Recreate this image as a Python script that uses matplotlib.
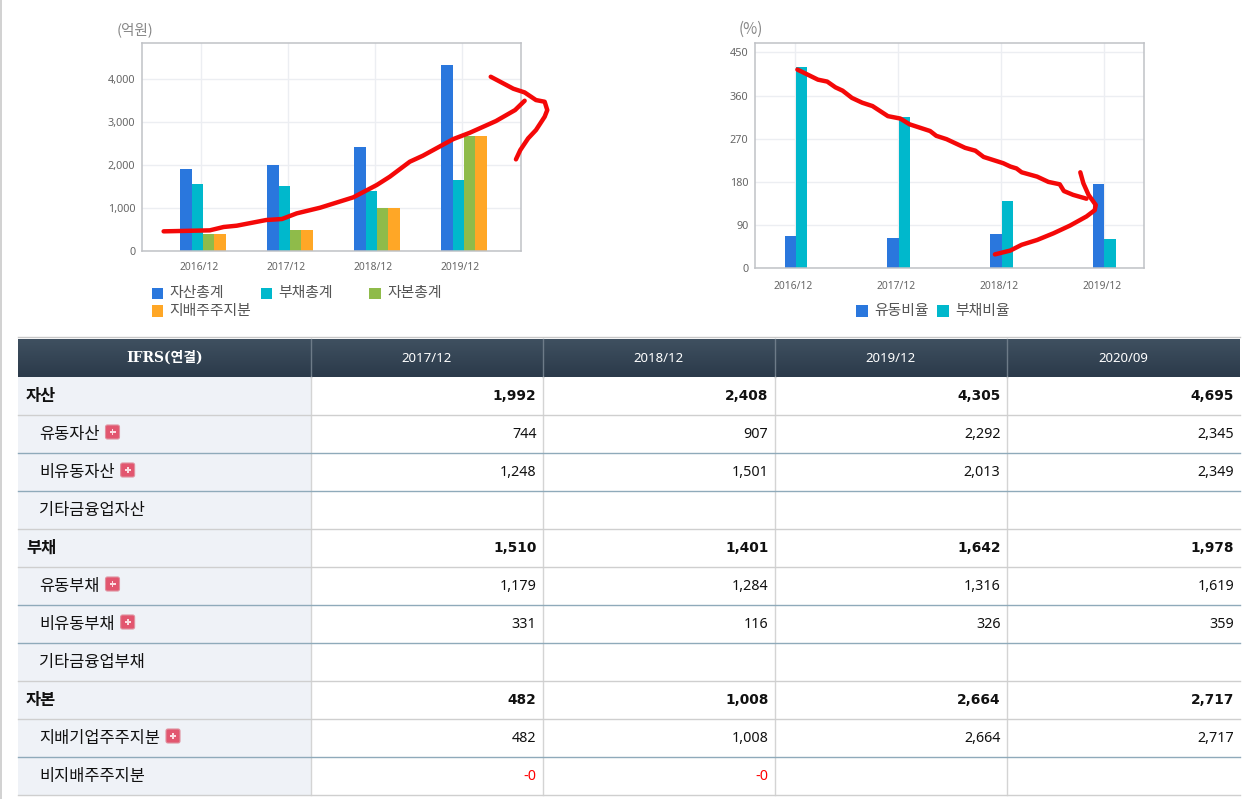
import numpy as np
import matplotlib
matplotlib.use('Agg')
import matplotlib.pyplot as plt
from matplotlib.patches import FancyBboxPatch, Rectangle
from matplotlib.transforms import ScaledTranslation

KR = ['Noto Sans CJK KR', 'DejaVu Sans']

# 차트 데이터
years = ['2016/12', '2017/12', '2018/12', '2019/12']
assets = [1895, 1992, 2408, 4305]
liabilities = [1550, 1510, 1401, 1642]
equity = [388, 482, 1008, 2664]
controlling = [388, 482, 1008, 2664]
current_ratio = [68, 63, 71, 175]
debt_ratio = [419, 315, 141, 62]

# 빨간 펜 표시 (카테고리 번호, 값)
pen_left_a_x = [-0.43, 0.10, 0.26, 0.41, 0.75, 0.93, 1.10, 1.37, 1.75, 2.02, 2.17, 2.40, 2.55, 2.90, 3.09, 3.39, 3.61, 3.72]
pen_left_a_y = [456, 479, 557, 587, 719, 742, 873, 1005, 1245, 1531, 1724, 2072, 2211, 2597, 2744, 3015, 3270, 3486]
pen_left_b_x = [3.33, 3.59, 3.72, 3.85, 3.95, 3.98, 3.95, 3.85, 3.76, 3.67, 3.62]
pen_left_b_y = [4043, 3765, 3679, 3502, 3463, 3270, 3115, 2806, 2613, 2342, 2126]
pen_right_a_x = [0.02, 0.22, 0.31, 0.39, 0.46, 0.55, 0.65, 0.75, 0.90, 1.02, 1.11, 1.31, 1.37, 1.47,
                 1.65, 1.75, 1.83, 2.02, 2.09, 2.15, 2.20, 2.35, 2.46, 2.57, 2.61, 2.70, 2.83]
pen_right_a_y = [414, 393, 389, 377, 370, 355, 345, 338, 317, 312, 300, 286, 276, 269,
                 251, 245, 232, 219, 212, 208, 200, 191, 180, 175, 161, 153, 145]
pen_right_b_x = [2.77, 2.80, 2.85, 2.92, 2.91, 2.83, 2.67, 2.51, 2.35, 2.20, 2.09, 1.94]
pen_right_b_y = [200, 177, 153, 132, 121, 108, 89, 73, 59, 49, 37, 29]

# 표 데이터
table_header = ['IFRS(연결)', '2017/12', '2018/12', '2019/12', '2020/09']
row_labels = ['자산', '유동자산', '비유동자산', '기타금융업자산', '부채', '유동부채', '비유동부채',
              '기타금융업부채', '자본', '지배기업주주지분', '비지배주주지분']
row_values = [
    ['1,992', '2,408', '4,305', '4,695'],
    ['744', '907', '2,292', '2,345'],
    ['1,248', '1,501', '2,013', '2,349'],
    ['', '', '', ''],
    ['1,510', '1,401', '1,642', '1,978'],
    ['1,179', '1,284', '1,316', '1,619'],
    ['331', '116', '326', '359'],
    ['', '', '', ''],
    ['482', '1,008', '2,664', '2,717'],
    ['482', '1,008', '2,664', '2,717'],
    ['-0', '-0', '', ''],
]
bold_rows = ['자산', '부채', '자본']
plus_rows = ['유동자산', '비유동자산', '유동부채', '비유동부채', '지배기업주주지분']

BLUE, TEAL, GREEN, ORANGE = '#2a77dd', '#00b8cc', '#8fbb4a', '#ffa726'
W, H = 1258, 799

fig = plt.figure(figsize=(W / 100, H / 100), dpi=100, facecolor='white')

# 전체 캔버스를 픽셀 좌표로 쓰는 바탕 축
bg = fig.add_axes([0, 0, 1, 1])
bg.set_xlim(0, W)
bg.set_ylim(H, 0)
bg.axis('off')


def make_axes(left, top, right, bottom, xlim, ylim, ticks, xpad):
    ax = fig.add_axes([left / W, 1 - bottom / H, (right - left) / W, (bottom - top) / H])
    ax.set_xlim(*xlim)
    ax.set_ylim(*ylim)
    ax.set_axisbelow(True)
    ax.grid(color='#eceef2', lw=1)
    for s in ax.spines.values():
        s.set_color('#c0c2c6')
        s.set_linewidth(1.1)
    ax.set_xticks(range(len(years)))
    ax.set_xticklabels(years, family='Noto Sans', fontsize=7.4, color='#666666')
    ax.set_yticks(ticks)
    ax.set_yticklabels([f'{t:,}' for t in ticks], family='Noto Sans', fontsize=7.8, color='#666666')
    ax.tick_params(length=0, pad=5)
    ax.tick_params(axis='x', pad=xpad)
    shift = ScaledTranslation(-2 / 100, 0, fig.dpi_scale_trans)
    for lab in ax.get_xticklabels():
        lab.set_transform(lab.get_transform() + shift)
    return ax


def pen(ax, xs, ys):
    ax.plot(xs, ys, color='#f40808', lw=3.2, clip_on=False, zorder=10,
            solid_capstyle='round', solid_joinstyle='round')


def legend_item(x, y, color, text):
    bg.add_patch(Rectangle((x, y), 11.5, 11.5, color=color, lw=0))
    bg.text(x + 18, y + 5.5, text, family=KR, fontsize=10.7, color='#555555', va='center', ha='left')


# 왼쪽 차트 (억원)
ax1 = make_axes(142.3, 42.7, 521, 251, (-0.675, 3.678), (0, 4833), [0, 1000, 2000, 3000, 4000], 8)
x1 = np.arange(len(years))
bw = 0.13
for i, (vals, col) in enumerate(zip([assets, liabilities, equity, controlling],
                                    [BLUE, TEAL, GREEN, ORANGE])):
    ax1.bar(x1 + 0.023 + (i - 1.5) * bw, vals, width=bw, color=col, lw=0)
pen(ax1, pen_left_a_x, pen_left_a_y)
pen(ax1, pen_left_b_x, pen_left_b_y)

# 오른쪽 차트 (%)
ax2 = make_axes(755.3, 42.7, 1144.3, 268.3, (-0.389, 3.392), (0, 470), [0, 90, 180, 270, 360, 450], 9)
x2 = np.arange(len(years))
bw2 = 0.11
ax2.bar(x2 + 0.005 - bw2 / 2, current_ratio, width=bw2, color=BLUE, lw=0)
ax2.bar(x2 + 0.005 + bw2 / 2, debt_ratio, width=bw2, color=TEAL, lw=0)
pen(ax2, pen_right_a_x, pen_right_a_y)
pen(ax2, pen_right_b_x, pen_right_b_y)

bg.text(135.5, 29.5, '(억원)', family=KR, fontsize=10.5, color='#888888', ha='center', va='center')
bg.text(751, 29.5, '(%)', family=KR, fontsize=11, color='#888888', ha='center', va='center')

legend_item(151.7, 287.7, BLUE, '자산총계')
legend_item(260.5, 287.7, TEAL, '부채총계')
legend_item(369.3, 287.7, GREEN, '자본총계')
legend_item(151.7, 305, ORANGE, '지배주주지분')
legend_item(856, 305, BLUE, '유동비율')
legend_item(937.3, 305, TEAL, '부채비율')

# --- 표 ---
col_edges = [18, 310.5, 542.5, 774.5, 1006.5, 1240]
header_top, header_bottom = 339, 377
row_h = 38
n_rows = len(row_labels)
table_bottom = header_bottom + n_rows * row_h

bg.add_patch(Rectangle((0, 0), 1.5, H, color='#d2d2d2', lw=0))
bg.plot([18, 1240], [336.5, 336.5], color='#c8c8c8', lw=1)

# 머리글 그라데이션
grad = np.linspace(0, 1, 40).reshape(-1, 1)
top_c = np.array([0x3f, 0x50, 0x60]) / 255
bot_c = np.array([0x2b, 0x3a, 0x4a]) / 255
bg.imshow(top_c + grad[..., None] * (bot_c - top_c), extent=(18, 1240, header_bottom, header_top),
          aspect='auto', zorder=1)
bg.set_xlim(0, W)
bg.set_ylim(H, 0)
for x in col_edges[1:-1]:
    bg.plot([x, x], [header_top, header_bottom], color='#6d7b88', lw=1, zorder=2)

bg.text((col_edges[0] + col_edges[1]) / 2, 358, table_header[0], family=['DejaVu Serif', 'Noto Sans CJK KR'],
        weight='bold', fontsize=10, color='white', ha='center', va='center', zorder=3)
for j, name in enumerate(table_header[1:]):
    bg.text((col_edges[j + 1] + col_edges[j + 2]) / 2, 358, name, family='Noto Sans',
            fontsize=9.5, color='white', ha='center', va='center', zorder=3)

bg.add_patch(Rectangle((18, header_bottom), col_edges[1] - 18, n_rows * row_h, color='#eff2f7', lw=0))
for x in col_edges[1:-1]:
    bg.plot([x, x], [header_bottom, table_bottom], color='#d4d4d4', lw=1)

renderer = fig.canvas.get_renderer()
inv = bg.transData.inverted()

for i, (label, vals) in enumerate(zip(row_labels, row_values)):
    yc = header_bottom + i * row_h + 19
    is_bold = label in bold_rows
    has_plus = label in plus_rows
    t = bg.text(26 if is_bold else 39, yc, label, family=KR, fontsize=11.8 if not is_bold else 11.8,
                weight='bold' if is_bold else 'normal', color='#111111', ha='left', va='center')

    # 밑줄 색: 펼침 버튼이 있는 행만 청회색
    line_y = header_bottom + (i + 1) * row_h - 0.5
    bg.plot([18, 1240], [line_y, line_y], color='#8faaba' if has_plus else '#cfcfcf', lw=1)

    if has_plus:
        ext = t.get_window_extent(renderer)
        ix = inv.transform((ext.x1, ext.y0))[0] + 6
        iy = yc - 9
        bg.add_patch(FancyBboxPatch((ix, iy), 14, 14, boxstyle='round,pad=0,rounding_size=2',
                                    fc='#e2566f', ec='#e0909e', lw=0.8, zorder=3))
        bg.add_patch(Rectangle((ix + 4, iy + 6.2), 6, 1.8, color='#fbdde2', lw=0, zorder=4))
        bg.add_patch(Rectangle((ix + 6.1, iy + 4), 1.8, 6, color='#fbdde2', lw=0, zorder=4))

    for j, v in enumerate(vals):
        if not v:
            continue
        color = 'red' if v.startswith('-') else '#111111'
        if is_bold:
            bg.text(col_edges[j + 2] - 6, yc + 0.5, v, family='DejaVu Sans', ha='right', va='center',
                    fontsize=9.9, weight='bold', color=color)
        else:
            bg.text(col_edges[j + 2] - 6, yc + 0.5, v, family='Noto Sans', ha='right', va='center',
                    fontsize=10.3, color=color)

fig.savefig('out.png', dpi=100)
